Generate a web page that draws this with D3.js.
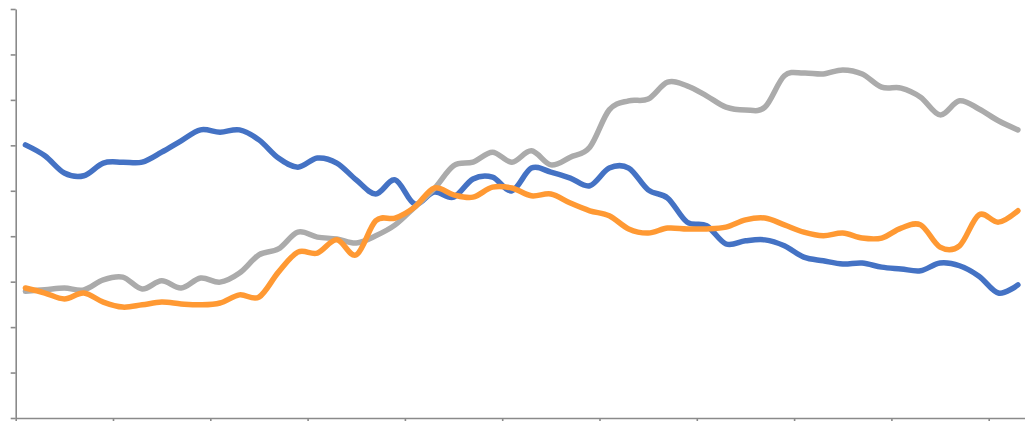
<!DOCTYPE html>
<html>
<head>
<meta charset="utf-8">
<script src="https://cdn.jsdelivr.net/npm/d3@7"></script>
<style>
  html, body { margin: 0; padding: 0; background: #fff; }
  svg { display: block; }
</style>
</head>
<body>
<svg id="chart" width="1025" height="421"></svg>
<script>
// 52 weekly categories
const categories = d3.range(1, 53);
const blueValues = [60.1,57.7,53.9,53.3,56.1,56.3,56.3,58.5,61.0,63.4,62.9,63.4,61.2,57.2,55.2,57.2,56.1,52.4,49.3,52.4,47.1,49.7,48.6,52.6,53.0,50.0,55.0,54.1,52.8,51.1,55.0,55.0,50.2,48.4,43.1,42.3,38.3,39.0,39.2,37.9,35.4,34.6,33.9,34.1,33.2,32.8,32.4,34.1,33.5,31.2,27.5,29.3];
const orangeValues = [28.6,27.5,26.2,27.5,25.5,24.4,24.9,25.5,25.1,24.9,25.3,27.1,26.6,32.1,36.5,36.3,39.2,35.9,43.4,44.0,46.4,50.6,49.1,48.6,50.8,50.6,48.9,49.3,47.3,45.6,44.5,41.6,40.7,41.8,41.6,41.6,42.0,43.6,44.0,42.5,40.9,40.1,40.7,39.6,39.6,41.8,42.5,37.6,37.9,44.7,43.1,45.6];
const grayValues = [27.9,28.2,28.6,28.2,30.4,31.0,28.4,30.2,28.6,30.8,29.9,31.9,35.9,37.2,40.9,39.8,39.4,38.5,40.1,42.5,46.4,50.4,55.5,56.3,58.5,56.3,58.8,55.7,57.4,59.6,67.8,69.8,70.2,73.9,73.1,70.9,68.4,67.8,68.4,75.3,75.9,75.7,76.6,75.7,72.8,72.6,70.6,66.7,69.8,68.0,65.4,63.4];
const yTicks = [0,10,20,30,40,50,60,70,80,90];
const xTickEvery = 5;

(function () {
  const svg = d3.select("#chart");
  const mLeft = 15.7, mBottom = 418, mTop = 9;
  const step = 19.46;
  const n = categories.length;

  const x = d3.scaleLinear().domain([0, n]).range([mLeft, mLeft + n * step]);
  const y = d3.scaleLinear().domain([0, 90]).range([mBottom, mTop]);

  const axisColor = "#8a8a8a";

  const yAxis = svg.append("g")
    .attr("transform", `translate(${mLeft},0)`)
    .call(d3.axisLeft(y).tickValues(yTicks).tickFormat("").tickSize(5).tickSizeOuter(0));
  const xAxis = svg.append("g")
    .attr("transform", `translate(0,${mBottom})`)
    .call(d3.axisBottom(x).tickValues(d3.range(0, n + 1, xTickEvery)).tickFormat("").tickSize(3).tickSizeOuter(0));

  [yAxis, xAxis].forEach(g => {
    g.select(".domain").attr("stroke", axisColor).attr("stroke-width", 1.6);
    g.selectAll(".tick line").attr("stroke", axisColor).attr("stroke-width", 1.6);
  });

  const line = d3.line()
    .x((d, i) => x(i + 0.5))
    .y(d => y(d))
    .curve(d3.curveCatmullRom.alpha(0));

  const series = [
    { values: blueValues, color: "#4472C4" },
    { values: grayValues, color: "#ABABAB" },
    { values: orangeValues, color: "#FF9933" }
  ];

  svg.append("g").selectAll("path")
    .data(series)
    .join("path")
    .attr("d", d => line(d.values))
    .attr("fill", "none")
    .attr("stroke", d => d.color)
    .attr("stroke-width", 5.5)
    .attr("stroke-linecap", "round")
    .attr("stroke-linejoin", "round");
})();
</script>
</body>
</html>
